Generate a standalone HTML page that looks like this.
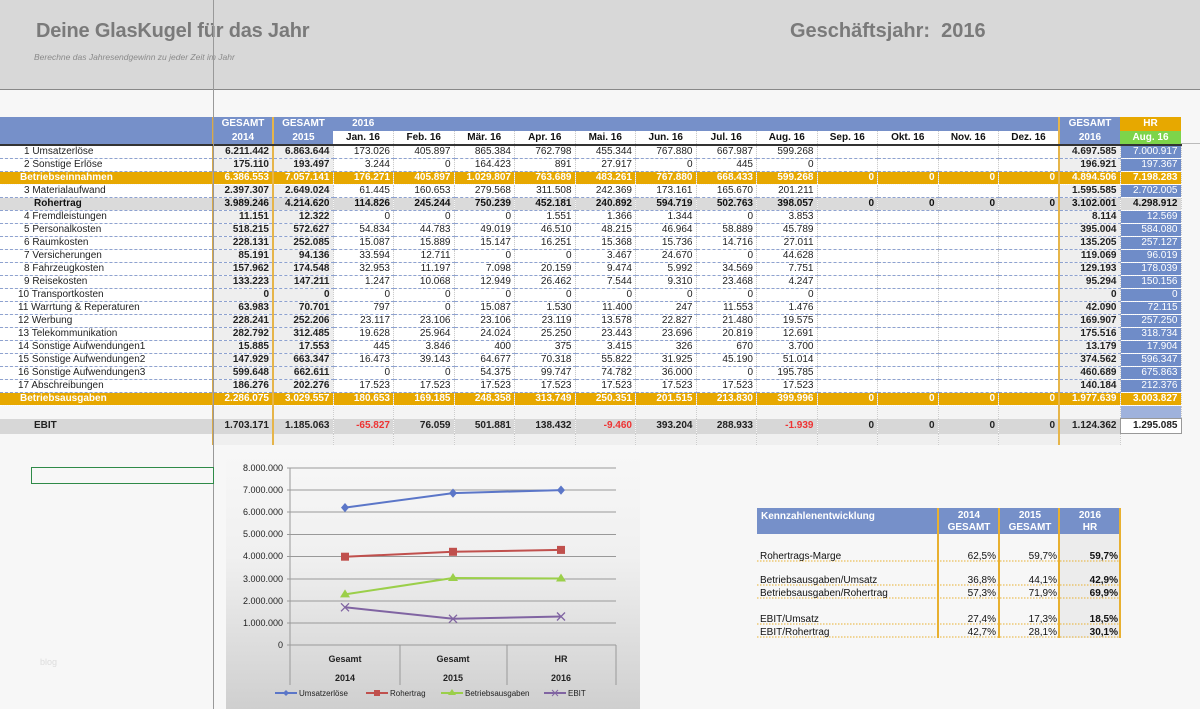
<!DOCTYPE html>
<html><head><meta charset="utf-8"><style>
*{margin:0;padding:0;box-sizing:border-box}
body{width:1200px;height:709px;overflow:hidden;background:#f7f7f7;font-family:"Liberation Sans",sans-serif;position:relative}
#hdr{position:absolute;left:0;top:0;width:1200px;height:90px;background:#d8d8d8;border-bottom:1px solid #888}
#t1{position:absolute;left:36px;top:20px;font-size:20px;font-weight:bold;color:#7a7a7a;letter-spacing:-0.2px}
#t2{position:absolute;left:34px;top:52px;font-size:8.5px;font-style:italic;color:#8a8a8a}
#t3{position:absolute;left:790px;top:20px;font-size:20px;font-weight:bold;color:#7a7a7a}
#vl{position:absolute;left:213px;top:0;width:1px;height:709px;background:#999}
table{position:absolute;left:0;top:117px;border-collapse:collapse;table-layout:fixed;width:1181px;font-size:10px}
td{height:13px;line-height:12px;text-align:right;padding:0 3px 0 0;white-space:nowrap;overflow:hidden;color:#222;border-bottom:1px dashed #8ea2d0;border-right:1px dotted #ccc;background:#fff}
td.l{text-align:left;padding-left:24px;border-right:none}
td.g{font-weight:bold;background:#eee;border-left:2px solid #d9a94a}
td.g2{font-weight:bold;background:#eee;border-left:2px solid #e6b54a}
td.h{background:#6f8cc8;color:#fff;border-bottom:1px dotted #fff}
tr.o td{background:#e7a800;color:#fff;font-weight:bold;border-bottom:1px dotted #fff}
tr.o td.l{padding-left:20px}
tr.r td{background:#dadada;font-weight:bold;color:#111}
tr.r td.h{background:#dadada;color:#111}
tr.e td{background:#d7d7d7;font-weight:bold;height:15px;border-bottom:none}
tr.b td{background:#f4f4f4;border-bottom:none}
tr.b td.l,tr.t td.l{background:#f7f7f7}
tr.t td{background:#efefef;border-bottom:none;height:11px}
tr.t td.x{background:#f7f7f7;border:none}
.neg{color:#e33!important}
tr.hd td{background:#7690c9;color:#fff;font-weight:bold;text-align:center;padding:0;height:14px;border:none}
tr.hd td.m{background:#fff;color:#111;border-right:1px dotted #ccc;border-bottom:2px solid #333}
tr.hd td.bb{border-bottom:2px solid #333}
</style></head><body>
<div id="hdr"><div id="t1">Deine GlasKugel für das Jahr</div><div id="t2">Berechne das Jahresendgewinn zu jeder Zeit im Jahr</div><div id="t3">Geschäftsjahr:&nbsp; 2016</div></div>
<div style="position:absolute;left:1181px;top:143px;width:19px;height:1px;background:#bbb"></div>
<table>
<colgroup><col style="width:213px"><col style="width:60px"><col style="width:60px"><col span="12" style="width:60.5px"><col style="width:61px"><col style="width:61px"></colgroup>
<tr class="hd"><td></td><td style="border-left:2px solid #d9a94a">GESAMT</td><td style="border-left:2px solid #e6b54a">GESAMT</td><td>2016</td><td></td><td></td><td></td><td></td><td></td><td></td><td></td><td></td><td></td><td></td><td></td><td style="border-left:2px solid #e6b54a">GESAMT</td><td style="background:#e7a800">HR</td></tr>
<tr class="hd"><td class="bb"></td><td class="bb" style="border-left:2px solid #d9a94a">2014</td><td class="bb" style="border-left:2px solid #e6b54a">2015</td><td class="m">Jan. 16</td><td class="m">Feb. 16</td><td class="m">Mär. 16</td><td class="m">Apr. 16</td><td class="m">Mai. 16</td><td class="m">Jun. 16</td><td class="m">Jul. 16</td><td class="m">Aug. 16</td><td class="m">Sep. 16</td><td class="m">Okt. 16</td><td class="m">Nov. 16</td><td class="m">Dez. 16</td><td class="bb" style="border-left:2px solid #e6b54a">2016</td><td class="bb" style="background:#7dd44a">Aug. 16</td></tr>
<tr><td class="l">1 Umsatzerlöse</td><td class="g">6.211.442</td><td class="g2">6.863.644</td><td>173.026</td><td>405.897</td><td>865.384</td><td>762.798</td><td>455.344</td><td>767.880</td><td>667.987</td><td>599.268</td><td></td><td></td><td></td><td></td><td class="g2">4.697.585</td><td class="h">7.000.917</td></tr>
<tr><td class="l">2 Sonstige Erlöse</td><td class="g">175.110</td><td class="g2">193.497</td><td>3.244</td><td>0</td><td>164.423</td><td>891</td><td>27.917</td><td>0</td><td>445</td><td>0</td><td></td><td></td><td></td><td></td><td class="g2">196.921</td><td class="h">197.367</td></tr>
<tr class="o"><td class="l">Betriebseinnahmen</td><td class="g">6.386.553</td><td class="g2">7.057.141</td><td>176.271</td><td>405.897</td><td>1.029.807</td><td>763.689</td><td>483.261</td><td>767.880</td><td>668.433</td><td>599.268</td><td>0</td><td>0</td><td>0</td><td>0</td><td class="g2">4.894.506</td><td class="h">7.198.283</td></tr>
<tr><td class="l">3 Materialaufwand</td><td class="g">2.397.307</td><td class="g2">2.649.024</td><td>61.445</td><td>160.653</td><td>279.568</td><td>311.508</td><td>242.369</td><td>173.161</td><td>165.670</td><td>201.211</td><td></td><td></td><td></td><td></td><td class="g2">1.595.585</td><td class="h">2.702.005</td></tr>
<tr class="r"><td class="l" style="padding-left:34px">Rohertrag</td><td class="g">3.989.246</td><td class="g2">4.214.620</td><td>114.826</td><td>245.244</td><td>750.239</td><td>452.181</td><td>240.892</td><td>594.719</td><td>502.763</td><td>398.057</td><td>0</td><td>0</td><td>0</td><td>0</td><td class="g2">3.102.001</td><td class="h">4.298.912</td></tr>
<tr><td class="l">4 Fremdleistungen</td><td class="g">11.151</td><td class="g2">12.322</td><td>0</td><td>0</td><td>0</td><td>1.551</td><td>1.366</td><td>1.344</td><td>0</td><td>3.853</td><td></td><td></td><td></td><td></td><td class="g2">8.114</td><td class="h">12.569</td></tr>
<tr><td class="l">5 Personalkosten</td><td class="g">518.215</td><td class="g2">572.627</td><td>54.834</td><td>44.783</td><td>49.019</td><td>46.510</td><td>48.215</td><td>46.964</td><td>58.889</td><td>45.789</td><td></td><td></td><td></td><td></td><td class="g2">395.004</td><td class="h">584.080</td></tr>
<tr><td class="l">6 Raumkosten</td><td class="g">228.131</td><td class="g2">252.085</td><td>15.087</td><td>15.889</td><td>15.147</td><td>16.251</td><td>15.368</td><td>15.736</td><td>14.716</td><td>27.011</td><td></td><td></td><td></td><td></td><td class="g2">135.205</td><td class="h">257.127</td></tr>
<tr><td class="l">7 Versicherungen</td><td class="g">85.191</td><td class="g2">94.136</td><td>33.594</td><td>12.711</td><td>0</td><td>0</td><td>3.467</td><td>24.670</td><td>0</td><td>44.628</td><td></td><td></td><td></td><td></td><td class="g2">119.069</td><td class="h">96.019</td></tr>
<tr><td class="l">8 Fahrzeugkosten</td><td class="g">157.962</td><td class="g2">174.548</td><td>32.953</td><td>11.197</td><td>7.098</td><td>20.159</td><td>9.474</td><td>5.992</td><td>34.569</td><td>7.751</td><td></td><td></td><td></td><td></td><td class="g2">129.193</td><td class="h">178.039</td></tr>
<tr><td class="l">9 Reisekosten</td><td class="g">133.223</td><td class="g2">147.211</td><td>1.247</td><td>10.068</td><td>12.949</td><td>26.462</td><td>7.544</td><td>9.310</td><td>23.468</td><td>4.247</td><td></td><td></td><td></td><td></td><td class="g2">95.294</td><td class="h">150.156</td></tr>
<tr><td class="l" style="padding-left:18px">10 Transportkosten</td><td class="g">0</td><td class="g2">0</td><td>0</td><td>0</td><td>0</td><td>0</td><td>0</td><td>0</td><td>0</td><td>0</td><td></td><td></td><td></td><td></td><td class="g2">0</td><td class="h">0</td></tr>
<tr><td class="l" style="padding-left:18px">11 Warrtung &amp; Reperaturen</td><td class="g">63.983</td><td class="g2">70.701</td><td>797</td><td>0</td><td>15.087</td><td>1.530</td><td>11.400</td><td>247</td><td>11.553</td><td>1.476</td><td></td><td></td><td></td><td></td><td class="g2">42.090</td><td class="h">72.115</td></tr>
<tr><td class="l" style="padding-left:18px">12 Werbung</td><td class="g">228.241</td><td class="g2">252.206</td><td>23.117</td><td>23.106</td><td>23.106</td><td>23.119</td><td>13.578</td><td>22.827</td><td>21.480</td><td>19.575</td><td></td><td></td><td></td><td></td><td class="g2">169.907</td><td class="h">257.250</td></tr>
<tr><td class="l" style="padding-left:18px">13 Telekommunikation</td><td class="g">282.792</td><td class="g2">312.485</td><td>19.628</td><td>25.964</td><td>24.024</td><td>25.250</td><td>23.443</td><td>23.696</td><td>20.819</td><td>12.691</td><td></td><td></td><td></td><td></td><td class="g2">175.516</td><td class="h">318.734</td></tr>
<tr><td class="l" style="padding-left:18px">14 Sonstige Aufwendungen1</td><td class="g">15.885</td><td class="g2">17.553</td><td>445</td><td>3.846</td><td>400</td><td>375</td><td>3.415</td><td>326</td><td>670</td><td>3.700</td><td></td><td></td><td></td><td></td><td class="g2">13.179</td><td class="h">17.904</td></tr>
<tr><td class="l" style="padding-left:18px">15 Sonstige Aufwendungen2</td><td class="g">147.929</td><td class="g2">663.347</td><td>16.473</td><td>39.143</td><td>64.677</td><td>70.318</td><td>55.822</td><td>31.925</td><td>45.190</td><td>51.014</td><td></td><td></td><td></td><td></td><td class="g2">374.562</td><td class="h">596.347</td></tr>
<tr><td class="l" style="padding-left:18px">16 Sonstige Aufwendungen3</td><td class="g">599.648</td><td class="g2">662.611</td><td>0</td><td>0</td><td>54.375</td><td>99.747</td><td>74.782</td><td>36.000</td><td>0</td><td>195.785</td><td></td><td></td><td></td><td></td><td class="g2">460.689</td><td class="h">675.863</td></tr>
<tr><td class="l" style="padding-left:18px">17 Abschreibungen</td><td class="g">186.276</td><td class="g2">202.276</td><td>17.523</td><td>17.523</td><td>17.523</td><td>17.523</td><td>17.523</td><td>17.523</td><td>17.523</td><td>17.523</td><td></td><td></td><td></td><td></td><td class="g2">140.184</td><td class="h">212.376</td></tr>
<tr class="o"><td class="l">Betriebsausgaben</td><td class="g">2.286.075</td><td class="g2">3.029.557</td><td>180.653</td><td>169.185</td><td>248.358</td><td>313.749</td><td>250.351</td><td>201.515</td><td>213.830</td><td>399.996</td><td>0</td><td>0</td><td>0</td><td>0</td><td class="g2">1.977.639</td><td class="h">3.003.827</td></tr>
<tr class="b"><td class="l"></td><td class="g"></td><td class="g2"></td><td></td><td></td><td></td><td></td><td></td><td></td><td></td><td></td><td></td><td></td><td></td><td></td><td class="g2"></td><td class="h" style="background:#9fb2dc"></td></tr>
<tr class="e"><td class="l" style="padding-left:34px">EBIT</td><td class="g">1.703.171</td><td class="g2">1.185.063</td><td class="neg">-65.827</td><td>76.059</td><td>501.881</td><td>138.432</td><td class="neg">-9.460</td><td>393.204</td><td>288.933</td><td class="neg">-1.939</td><td>0</td><td>0</td><td>0</td><td>0</td><td class="g2">1.124.362</td><td style="background:#fff;border:1px solid #999">1.295.085</td></tr>
<tr class="t"><td class="l"></td><td class="g"></td><td class="g2"></td><td></td><td></td><td></td><td></td><td></td><td></td><td></td><td></td><td></td><td></td><td></td><td></td><td class="g2"></td><td class="x"></td></tr>
</table>
<div id="vl"></div>
<div style="position:absolute;left:31px;top:467px;width:183px;height:17px;border:1.5px solid #2f8a48"></div>
<div style="position:absolute;left:40px;top:657px;font-size:9px;color:#ddd">blog</div>

<svg style="position:absolute;left:0;top:0" width="1200" height="709" font-family="Liberation Sans, sans-serif">
<defs><linearGradient id="bg" x1="0" y1="0" x2="0" y2="1"><stop offset="0" stop-color="#f7f7f7"/><stop offset="0.4" stop-color="#f0f0f0"/><stop offset="1" stop-color="#cfcfcf"/></linearGradient></defs>
<rect x="226" y="455" width="414" height="254" fill="url(#bg)"/>
<g stroke="#999" stroke-width="1">
<line x1="287" y1="468" x2="616" y2="468"/><line x1="287" y1="490" x2="616" y2="490"/><line x1="287" y1="512" x2="616" y2="512"/><line x1="287" y1="534.5" x2="616" y2="534.5"/><line x1="287" y1="556.5" x2="616" y2="556.5"/><line x1="287" y1="579" x2="616" y2="579"/><line x1="287" y1="601" x2="616" y2="601"/><line x1="287" y1="623" x2="616" y2="623"/><line x1="287" y1="645" x2="616" y2="645"/>
<line x1="290" y1="468" x2="290" y2="685"/><line x1="400" y1="645" x2="400" y2="685"/><line x1="507" y1="645" x2="507" y2="685"/><line x1="616" y1="645" x2="616" y2="685"/>
</g>
<g font-size="9" fill="#222" text-anchor="end">
<text x="283" y="471">8.000.000</text><text x="283" y="493">7.000.000</text><text x="283" y="515">6.000.000</text><text x="283" y="537">5.000.000</text><text x="283" y="559">4.000.000</text><text x="283" y="582">3.000.000</text><text x="283" y="604">2.000.000</text><text x="283" y="626">1.000.000</text><text x="283" y="648">0</text>
</g>
<g font-size="9" font-weight="bold" fill="#222" text-anchor="middle">
<text x="345" y="662">Gesamt</text><text x="453" y="662">Gesamt</text><text x="561" y="662">HR</text>
<text x="345" y="681">2014</text><text x="453" y="681">2015</text><text x="561" y="681">2016</text>
</g>
<g stroke-width="2" fill="none">
<polyline points="345,507.6 453,493.1 561,490.1" stroke="#5b76c8"/>
<polyline points="345,556.7 453,551.8 561,549.9" stroke="#c0504d"/>
<polyline points="345,594.4 453,578 561,578.5" stroke="#9bcf4a"/>
<polyline points="345,607.3 453,618.8 561,616.5" stroke="#8064a2"/>
</g>
<g fill="#5b76c8"><path d="M345 503l4 4.6-4 4.6-4-4.6z"/><path d="M453 488.5l4 4.6-4 4.6-4-4.6z"/><path d="M561 485.5l4 4.6-4 4.6-4-4.6z"/></g>
<g fill="#c0504d"><rect x="341" y="552.7" width="8" height="8"/><rect x="449" y="547.8" width="8" height="8"/><rect x="557" y="545.9" width="8" height="8"/></g>
<g fill="#9bcf4a"><path d="M345 589.4l5 8h-10z"/><path d="M453 573l5 8h-10z"/><path d="M561 573.5l5 8h-10z"/></g>
<g stroke="#8064a2" stroke-width="1.3"><path d="M341 603.3l8 8M349 603.3l-8 8M449 614.8l8 8M457 614.8l-8 8M557 612.5l8 8M565 612.5l-8 8"/></g>
<g font-size="8" fill="#222">
<line x1="275" y1="693" x2="297" y2="693" stroke="#5b76c8" stroke-width="2"/><path d="M286 690l3 3-3 3-3-3z" fill="#5b76c8"/><text x="299" y="696">Umsatzerlöse</text>
<line x1="366" y1="693" x2="388" y2="693" stroke="#c0504d" stroke-width="2"/><rect x="374" y="690" width="6" height="6" fill="#c0504d"/><text x="390" y="696">Rohertrag</text>
<line x1="441" y1="693" x2="463" y2="693" stroke="#9bcf4a" stroke-width="2"/><path d="M452 689l4 6h-8z" fill="#9bcf4a"/><text x="465" y="696">Betriebsausgaben</text>
<line x1="544" y1="693" x2="566" y2="693" stroke="#8064a2" stroke-width="2"/><path d="M552 690l6 6M558 690l-6 6" stroke="#8064a2"/><text x="568" y="696">EBIT</text>
</g>

<rect x="757" y="508" width="363" height="26" fill="#7690c9"/>
<g font-size="10" font-weight="bold" fill="#fff">
<text x="761" y="519">Kennzahlenentwicklung</text>
<text x="969" y="518" text-anchor="middle">2014</text><text x="969" y="530" text-anchor="middle">GESAMT</text>
<text x="1030" y="518" text-anchor="middle">2015</text><text x="1030" y="530" text-anchor="middle">GESAMT</text>
<text x="1090" y="518" text-anchor="middle">2016</text><text x="1090" y="530" text-anchor="middle">HR</text>
</g>
<rect x="1059" y="534" width="61" height="104" fill="#ececec"/>
<g stroke="#e8b030" stroke-width="2"><line x1="938" y1="508" x2="938" y2="638"/><line x1="999" y1="508" x2="999" y2="638"/><line x1="1059" y1="508" x2="1059" y2="638"/><line x1="1120" y1="508" x2="1120" y2="638"/></g>
<g stroke="#e8b030" stroke-width="1" stroke-dasharray="1.5,1.5"><line x1="757" y1="561" x2="1120" y2="561"/><line x1="757" y1="585" x2="1120" y2="585"/><line x1="757" y1="598" x2="1120" y2="598"/><line x1="757" y1="624" x2="1120" y2="624"/><line x1="757" y1="637" x2="1120" y2="637"/></g>
<g font-size="10" fill="#111">
<text x="760" y="559">Rohertrags-Marge</text><text x="996" y="559" text-anchor="end">62,5%</text><text x="1057" y="559" text-anchor="end">59,7%</text><text x="1118" y="559" text-anchor="end" font-weight="bold">59,7%</text>
<text x="760" y="583">Betriebsausgaben/Umsatz</text><text x="996" y="583" text-anchor="end">36,8%</text><text x="1057" y="583" text-anchor="end">44,1%</text><text x="1118" y="583" text-anchor="end" font-weight="bold">42,9%</text>
<text x="760" y="596">Betriebsausgaben/Rohertrag</text><text x="996" y="596" text-anchor="end">57,3%</text><text x="1057" y="596" text-anchor="end">71,9%</text><text x="1118" y="596" text-anchor="end" font-weight="bold">69,9%</text>
<text x="760" y="622">EBIT/Umsatz</text><text x="996" y="622" text-anchor="end">27,4%</text><text x="1057" y="622" text-anchor="end">17,3%</text><text x="1118" y="622" text-anchor="end" font-weight="bold">18,5%</text>
<text x="760" y="635">EBIT/Rohertrag</text><text x="996" y="635" text-anchor="end">42,7%</text><text x="1057" y="635" text-anchor="end">28,1%</text><text x="1118" y="635" text-anchor="end" font-weight="bold">30,1%</text>
</g>
</svg>
</body></html>
